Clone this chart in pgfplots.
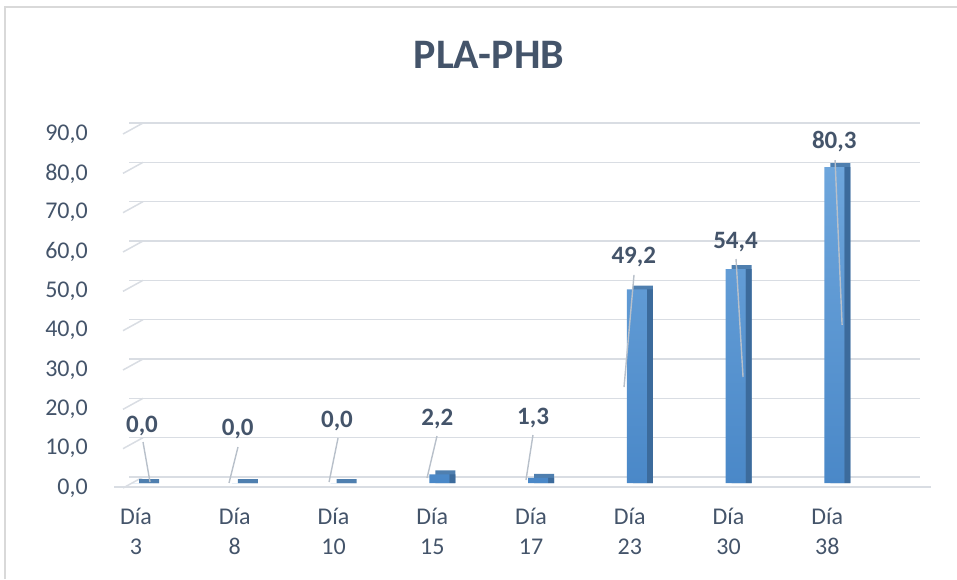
\documentclass[border=0pt]{standalone}
\usepackage{pgfplots}
\pgfplotsset{compat=1.18}
\usepackage{pgfplotstable}
\usepackage{fontspec}
\setmainfont{Carlito}

\definecolor{txt}{HTML}{44546A}
\definecolor{gridc}{HTML}{D9DDE3}
\definecolor{border}{HTML}{D9D9D9}
\definecolor{barlight}{HTML}{6EA6DC}
\definecolor{bardark}{HTML}{4A88C8}
\definecolor{barside}{HTML}{3C6B9C}
\definecolor{bartop}{HTML}{4F7FAF}
\definecolor{leader}{HTML}{B8C0CA}

% x y  label offset (pt)
\pgfplotstableread{
x y dx dy
0 0.0 -1 51
1 0.0 -4 48
2 0.0 -3.5 56
3 2.2 -2 49
4 1.3 -5 53
5 49.2 -3 26
6 54.4 0 21
7 80.3 0 19
}\datatable

\begin{document}
\begin{tikzpicture}
\useasboundingbox (0pt,0pt) rectangle (957pt,579pt);
\draw[border, line width=1.5pt] (5pt,0pt) -- (5pt,572pt) -- (957pt,572pt);
\node[font=\fontsize{42}{50}\selectfont\bfseries, text=txt] at (489pt,524pt) {PLA-PHB};

\begin{axis}[
  at={(129pt,96pt)}, anchor=south west,
  scale only axis, width=791pt, height=354pt,
  xmin=-0.1418, xmax=7.868, ymin=0, ymax=90,
  clip=false,
  axis line style={draw=none},
  major tick length=0pt,
  ymajorgrids,
  grid style={gridc, line width=1.5pt, yshift=6pt},
  ytick={0,10,...,90},
  yticklabel={\pgfmathprintnumber[fixed,fixed zerofill,precision=1,use comma,assume math mode=true]{\tick}},
  yticklabel style={anchor=east, inner sep=0pt, xshift=-41pt, yshift=-5pt,
    font=\fontsize{24}{29}\selectfont, text=txt},
  xtick={0,...,7},
  xticklabels={{Día\\3},{Día\\8},{Día\\10},{Día\\15},{Día\\17},{Día\\23},{Día\\30},{Día\\38}},
  xticklabel style={align=center, anchor=north, inner sep=0pt, yshift=-25pt, xshift=-7pt,
    font=\fontsize{24}{30}\selectfont, text=txt},
]
% left wall stubs and floor edge
\pgfplotsinvokeforeach{0,10,...,90}{\draw[gridc, line width=1.5pt] (axis cs:-0.1418,#1) ++(0,6pt) -- ++(-20pt,-11pt);}
\draw[gridc, line width=1.5pt] (axis cs:-0.435,0) ++(0,-4pt) -- ++(803pt,0);

% top faces (peeking out behind the front)
\addplot[ybar, bar width=20pt, bar shift=6pt, draw=none, fill=bartop] table[x=x,y expr=\thisrow{y}+1]{\datatable};
% side faces
\addplot[ybar, bar width=6pt, bar shift=13pt, draw=none, fill=barside] table[x=x,y=y]{\datatable};
% front faces
\addplot[ybar, bar width=20pt, bar shift=0pt, draw=none, top color=barlight, bottom color=bardark] table[x=x,y=y]{\datatable};
% value labels
\addplot[ybar, bar width=20pt, bar shift=0pt, draw=none, fill=none,
  visualization depends on={\thisrow{dx} \as \ldx},
  visualization depends on={\thisrow{dy} \as \ldy},
  nodes near coords={\pgfmathprintnumber[fixed,fixed zerofill,precision=1,use comma,assume math mode=true]{\pgfplotspointmeta}},
  every node near coord/.append style={anchor=base, inner sep=0pt, xshift=\ldx pt, yshift=\ldy pt,
    font=\fontsize{25}{30}\selectfont\bfseries, text=txt}]
  table[x=x,y=y]{\datatable};
% leader lines
\addplot[leader, line width=1.4pt, mark=none, unbounded coords=jump] coordinates {
  (0,10.42) (0.071,0.25) (0,nan)
  (0.962,9.15) (0.871,0) (0,nan)
  (1.975,11.44) (1.884,0.25) (0,nan)
  (2.977,11.95) (2.876,1.27) (0,nan)
  (3.949,12.2) (3.878,0.76) (0,nan)
  (4.972,52.9) (4.871,24.4) (0,nan)
  (6.005,56.95) (6.076,26.95) (0,nan)
  (7.008,82.1) (7.079,40.2)
};
\end{axis}
\end{tikzpicture}
\end{document}
